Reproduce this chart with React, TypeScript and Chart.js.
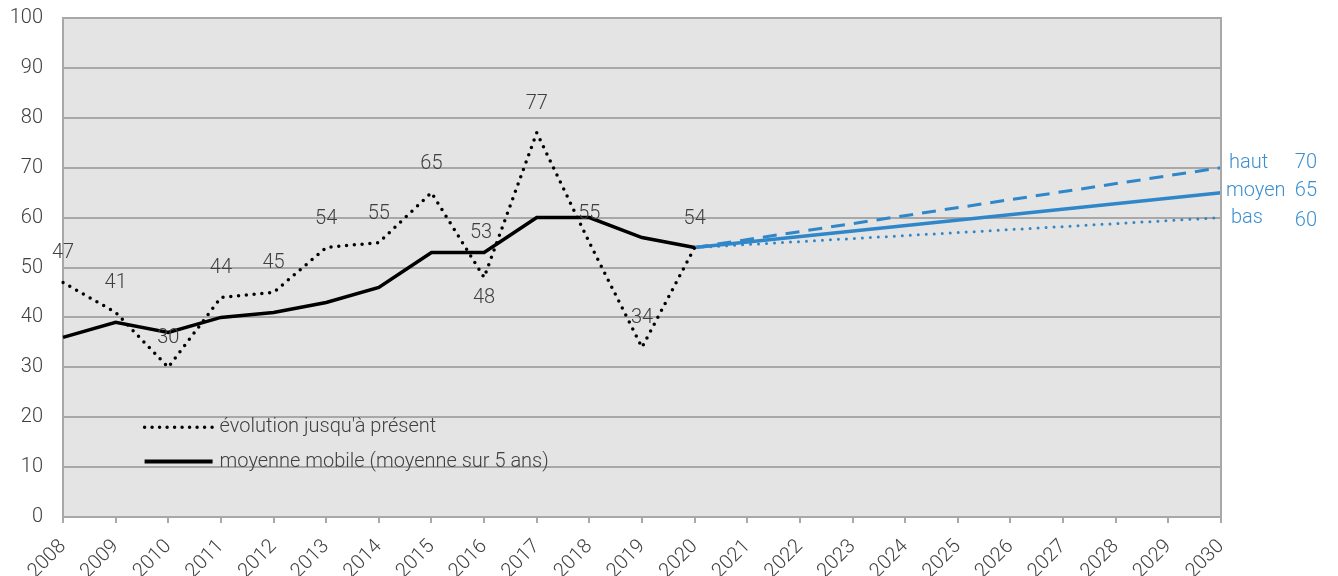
import React, { useEffect, useRef } from "react";
import { Chart, registerables } from "chart.js";

Chart.register(...registerables);

const years = ["2008","2009","2010","2011","2012","2013","2014","2015","2016","2017","2018","2019","2020","2021","2022","2023","2024","2025","2026","2027","2028","2029","2030"];
const evolution = [47, 41, 30, 44, 45, 54, 55, 65, 48, 77, 55, 34, 54];
const evolutionLabelSide = ["up","up","up","up","up","up","up","up","down","up","up","up","up"];
const movingAvg = [36, 39, 37, 40, 41, 43, 46, 53, 53, 60, 60, 56, 54];
const movingAvgLabelYears = ["2016"];
const projectionYears = ["2020", "2030"];
const projHaut = [54, 70];
const projMoyen = [54, 65];
const projBas = [54, 60];
const scenarioNames = ["haut", "moyen", "bas"];
const yTicks = [0, 10, 20, 30, 40, 50, 60, 70, 80, 90, 100];
const legendLabels = ["évolution jusqu'à présent", "moyenne mobile (moyenne sur 5 ans)"];

const TEXT = "#404040";
const BLUE = "#2f87c9";
const BLUE_TEXT = "#3b8fd0";
const GRID = "#a8a8a8";
const FONT = "Roboto";
const FS = 20;

const toXY = (ys: string[], vs: number[]) => ys.map((y, i) => ({ x: y, y: vs[i] }));

const bgPlugin = {
  id: "bg",
  beforeDraw(chart: any) {
    const { ctx, chartArea: a } = chart;
    ctx.save();
    ctx.fillStyle = "#e4e4e4";
    ctx.fillRect(a.left, a.top, a.right - a.left, a.bottom - a.top);
    ctx.restore();
  },
  afterDraw(chart: any) {
    const { ctx, chartArea: a } = chart;
    ctx.save();
    ctx.strokeStyle = GRID;
    ctx.lineWidth = 2;
    ctx.beginPath();
    ctx.moveTo(a.left, a.top);
    ctx.lineTo(a.right, a.top);
    ctx.lineTo(a.right, a.bottom);
    ctx.stroke();
    ctx.restore();
  },
};

const labelPlugin = {
  id: "labels",
  afterDatasetsDraw(chart: any) {
    const { ctx } = chart;
    const xs = chart.scales.x;
    const ysc = chart.scales.y;
    ctx.save();
    ctx.font = `300 ${FS}px ${FONT}`;
    ctx.fillStyle = TEXT;
    ctx.textAlign = "center";
    ctx.textBaseline = "middle";
    evolution.forEach((v, i) => {
      const px = xs.getPixelForValue(i);
      const py = ysc.getPixelForValue(v);
      const dy = evolutionLabelSide[i] === "down" ? 21 : -29;
      ctx.fillText(String(v), px, py + dy);
    });
    movingAvgLabelYears.forEach((yr) => {
      const i = years.indexOf(yr);
      const v = movingAvg[i];
      ctx.fillText(String(v), xs.getPixelForValue(i) - 3, ysc.getPixelForValue(v) - 20);
    });
    // scenario labels
    const ends = [projHaut[1], projMoyen[1], projBas[1]];
    const nameDy = [-5, -2, 0];
    const valDy = [-5, -2, 3];
    const right = chart.chartArea.right;
    ctx.fillStyle = BLUE_TEXT;
    ends.forEach((v, k) => {
      const py = ysc.getPixelForValue(v);
      ctx.textAlign = "left";
      const nx = k === 1 ? right + 5 : k === 0 ? right + 8 : right + 10;
      ctx.fillText(scenarioNames[k], nx, py + nameDy[k]);
      ctx.textAlign = "right";
      ctx.fillText(String(v), right + 96, py + valDy[k]);
    });
    // legend
    const lx0 = xs.getPixelForValue(1.55);
    const lx1 = lx0 + 70;
    const ly = [ysc.getPixelForValue(18), ysc.getPixelForValue(11.1)];
    ctx.strokeStyle = "#000";
    ctx.lineWidth = 3.5;
    ctx.lineCap = "round";
    ctx.setLineDash([0, 7.5]);
    ctx.beginPath();
    ctx.moveTo(lx0, ly[0]);
    ctx.lineTo(lx1, ly[0]);
    ctx.stroke();
    ctx.setLineDash([]);
    ctx.lineCap = "butt";
    ctx.lineWidth = 4;
    ctx.beginPath();
    ctx.moveTo(lx0, ly[1]);
    ctx.lineTo(lx1 - 2, ly[1]);
    ctx.stroke();
    ctx.fillStyle = TEXT;
    ctx.textAlign = "left";
    ctx.fillText(legendLabels[0], lx1 + 5, ly[0]);
    ctx.fillText(legendLabels[1], lx1 + 5, ly[1]);
    ctx.restore();
  },
};

export default function App() {
  const ref = useRef<HTMLCanvasElement>(null);
  useEffect(() => {
    document.body.style.margin = "0";
    const chart = new Chart(ref.current!, {
      type: "line",
      data: {
        labels: years,
        datasets: [
          {
            label: legendLabels[0],
            data: evolution,
            borderColor: "#000",
            borderWidth: 3.5,
            borderDash: [0, 7.8],
            borderCapStyle: "round",
            pointRadius: 0,
            tension: 0,
          },
          {
            label: legendLabels[1],
            data: movingAvg,
            borderColor: "#000",
            borderWidth: 3.5,
            pointRadius: 0,
            tension: 0,
          },
          {
            label: "haut",
            data: toXY(projectionYears, projHaut) as any,
            borderColor: BLUE,
            borderWidth: 3,
            borderDash: [14, 9],
            pointRadius: 0,
          },
          {
            label: "moyen",
            data: toXY(projectionYears, projMoyen) as any,
            borderColor: BLUE,
            borderWidth: 3.5,
            pointRadius: 0,
          },
          {
            label: "bas",
            data: toXY(projectionYears, projBas) as any,
            borderColor: BLUE,
            borderWidth: 3,
            borderDash: [0, 8],
            borderCapStyle: "round",
            pointRadius: 0,
          },
        ],
      },
      options: {
        responsive: false,
        animation: false,
        layout: { padding: { top: 18, right: 117, left: 0, bottom: 0 } },
        plugins: { legend: { display: false }, tooltip: { enabled: false } },
        scales: {
          x: {
            type: "category",
            offset: false,
            grid: { drawOnChartArea: false, drawTicks: true, tickLength: 6, color: GRID, lineWidth: 2 },
            border: { color: GRID, width: 2 },
            ticks: {
              color: TEXT,
              font: { family: FONT, size: FS, weight: "300" as any },
              maxRotation: 45,
              minRotation: 45,
              autoSkip: false,
              padding: 12,
            },
            afterFit(s: any) { s.height = 59; s.paddingLeft = 0; s.paddingRight = 0; },
          },
          y: {
            min: 0,
            max: 100,
            afterBuildTicks(s: any) { s.ticks = yTicks.map((v) => ({ value: v })); },
            grid: { color: GRID, lineWidth: 2, drawTicks: false },
            border: { color: GRID, width: 2 },
            ticks: {
              color: TEXT,
              font: { family: FONT, size: FS, weight: "300" as any },
              padding: 20,
            },
            afterFit(s: any) { s.width = 63; s.paddingTop = 0; s.paddingBottom = 0; },
          },
        },
      },
      plugins: [bgPlugin, labelPlugin],
    });
    return () => chart.destroy();
  }, []);
  return (
    <div style={{ position: "fixed", left: 0, top: 0, width: 1338, height: 576, background: "#fff" }}>
      <canvas ref={ref} width={1338} height={576} />
    </div>
  );
}
